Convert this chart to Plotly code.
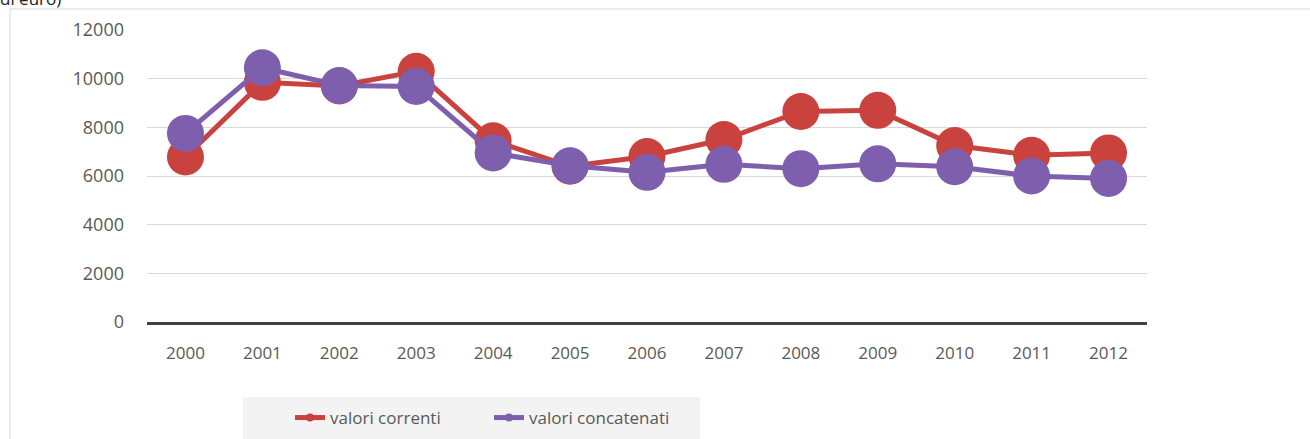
import plotly.graph_objects as go

years = ["2000", "2001", "2002", "2003", "2004", "2005", "2006",
         "2007", "2008", "2009", "2010", "2011", "2012"]
valori_correnti = [6780, 9850, 9700, 10300, 7450, 6400, 6800,
                   7500, 8650, 8700, 7250, 6850, 6950]
valori_concatenati = [7750, 10450, 9720, 9680, 6950, 6420, 6150,
                      6480, 6300, 6500, 6380, 6000, 5900]
y_ticks = [0, 2000, 4000, 6000, 8000, 10000, 12000]

RED = "#C9423D"
PURPLE = "#7E5FAE"
FONT = "Open Sans"

W, H = 1310, 439
ML, MR, MT, MB = 147, 163, 30, 117
PW = W - ML - MR
PH = H - MT - MB

def px_x(p):
    return (p - ML) / PW

def px_y(p):
    return (H - MB - p) / PH

fig = go.Figure()

for name, vals, col in [("valori correnti", valori_correnti, RED),
                        ("valori concatenati", valori_concatenati, PURPLE)]:
    fig.add_trace(go.Scatter(
        x=years, y=vals, mode="lines+markers", name=name,
        line=dict(color=col, width=5),
        marker=dict(color=col, size=37),
        showlegend=False, hoverinfo="x+y+name",
    ))

for name, col in [("valori correnti", RED), ("valori concatenati", PURPLE)]:
    fig.add_trace(go.Scatter(
        x=[None], y=[None], mode="lines+markers", name=name,
        line=dict(color=col, width=5),
        marker=dict(color=col, size=8),
        showlegend=True,
    ))

fig.update_layout(
    width=W, height=H,
    margin=dict(l=ML, r=MR, t=MT, b=MB, pad=0, autoexpand=False),
    paper_bgcolor="white", plot_bgcolor="white",
    font=dict(family=FONT, size=17, color="#595959"),
    xaxis=dict(
        type="category", range=[-0.5, 12.5],
        showgrid=False, zeroline=False,
        showline=True, linecolor="#404040", linewidth=2.5,
        ticks="", ticklabelstandoff=14,
        tickfont=dict(size=17, color="#595959"),
    ),
    yaxis=dict(
        range=[0, 12000], tickvals=y_ticks, tickformat="d",
        showgrid=True, gridcolor="#d9d9d9", gridwidth=1,
        zeroline=False, showline=False, ticks="",
        ticklabelstandoff=22,
        tickfont=dict(size=18, color="#595959"),
    ),
    legend=dict(
        orientation="h", x=px_x(290), y=px_y(400),
        xanchor="left", yanchor="top",
        bgcolor="rgba(0,0,0,0)", borderwidth=0,
        entrywidth=154, entrywidthmode="pixels",
        font=dict(size=17, color="#595959"),
        itemsizing="trace", tracegroupgap=0,
    ),
    shapes=[
        dict(
            type="rect", xref="paper", yref="paper",
            x0=px_x(10), x1=px_x(1330), y0=px_y(460), y1=px_y(9),
            line=dict(color="#d9d9d9", width=1), fillcolor="rgba(0,0,0,0)",
            layer="below",
        ),
        dict(
            type="rect", xref="paper", yref="paper",
            x0=px_x(243), x1=px_x(700), y0=px_y(450), y1=px_y(397),
            line=dict(width=0), fillcolor="#f3f3f3",
            layer="below",
        ),
    ],
    annotations=[dict(
        text="di euro)", xref="paper", yref="paper",
        x=px_x(-2), y=px_y(12), xanchor="left", yanchor="bottom",
        showarrow=False, font=dict(size=17, color="#222222", family=FONT),
    )],
)

fig.write_html("out.html", config={"displayModeBar": False},
               post_script="document.body.style.margin='0px';")
